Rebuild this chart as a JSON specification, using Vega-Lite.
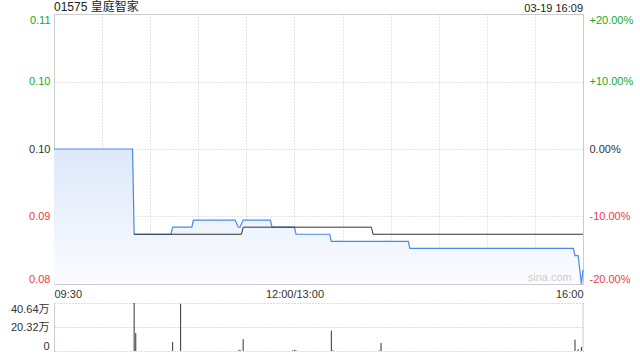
{
  "$schema": "https://vega.github.io/schema/vega-lite/v6.json",
  "padding": {"left": 10, "top": 0, "right": 5, "bottom": 2},
  "background": "white",
  "spacing": 2,
  "config": {
    "font": "Liberation Sans, Noto Sans CJK SC, sans-serif",
    "view": {"stroke": "#cccccc"},
    "axis": {"labelFontSize": 11, "labelColor": "#333333", "ticks": false, "domain": false, "gridColor": "#cccccc", "gridDash": [1, 2], "title": null, "labelFont": "Liberation Sans, Noto Sans CJK SC, sans-serif"}
  },
  "datasets": {
    "price": [
      {"m": 0, "price": 0.095}, {"m": 49, "price": 0.095}, {"m": 50, "price": 0.083},
      {"m": 73, "price": 0.083}, {"m": 74, "price": 0.084}, {"m": 86, "price": 0.084},
      {"m": 87, "price": 0.085}, {"m": 113, "price": 0.085}, {"m": 115, "price": 0.084},
      {"m": 116, "price": 0.084}, {"m": 118, "price": 0.085}, {"m": 135, "price": 0.085},
      {"m": 136, "price": 0.084}, {"m": 150, "price": 0.084}, {"m": 151, "price": 0.083},
      {"m": 172, "price": 0.083}, {"m": 173, "price": 0.082}, {"m": 221, "price": 0.082},
      {"m": 222, "price": 0.081}, {"m": 324, "price": 0.081}, {"m": 325, "price": 0.080},
      {"m": 327, "price": 0.080}, {"m": 329, "price": 0.076}, {"m": 330, "price": 0.078}
    ],
    "avg": [
      {"m": 50, "price": 0.083},
      {"m": 117, "price": 0.083}, {"m": 118, "price": 0.084}, {"m": 198, "price": 0.084},
      {"m": 199, "price": 0.083}, {"m": 330, "price": 0.083}
    ],
    "vol": [
      {"m": 50, "vol": 406400}, {"m": 51, "vol": 152000}, {"m": 74, "vol": 76000},
      {"m": 79, "vol": 400000}, {"m": 115, "vol": 5000}, {"m": 116, "vol": 11000},
      {"m": 118, "vol": 101000}, {"m": 149, "vol": 6000}, {"m": 150, "vol": 10000},
      {"m": 151, "vol": 5000}, {"m": 173, "vol": 172000}, {"m": 174, "vol": 6000},
      {"m": 203, "vol": 4000}, {"m": 204, "vol": 68000}, {"m": 325, "vol": 96000},
      {"m": 327, "vol": 15000}, {"m": 329, "vol": 34000}
    ]
  },
  "vconcat": [
    {
      "width": 529,
      "height": 270,
      "layer": [
        {
          "data": {"name": "price"},
          "mark": {"type": "area", "color": {"gradient": "linear", "x1": 0, "y1": 0, "x2": 0, "y2": 1, "stops": [{"offset": 0, "color": "#dde8fa"}, {"offset": 1, "color": "#fbfcff"}]}},
          "encoding": {
            "x": {"field": "m", "type": "quantitative", "scale": {"domain": [0, 330], "nice": false},
              "axis": {"values": [0, 30, 60, 90, 120, 150, 180, 210, 240, 270, 300, 330], "grid": true, "labelFlush": true, "labelOverlap": false, "labelPadding": 4,
                "labelExpr": "datum.value == 0 ? '09:30' : datum.value == 150 ? '12:00/13:00' : datum.value == 330 ? '16:00' : ''"}},
            "y": {"field": "price", "type": "quantitative", "scale": {"domain": [0.076, 0.114], "nice": false, "zero": false},
              "axis": {"orient": "left", "values": [0.076, 0.0855, 0.095, 0.1045, 0.114], "grid": true, "labelFlush": true, "labelOverlap": false, "labelPadding": 4,
                "labelExpr": "datum.value > 0.11 ? '0.11' : datum.value > 0.09 ? '0.10' : datum.value > 0.08 ? '0.09' : '0.08'",
                "labelColor": {"condition": [{"test": "datum.value > 0.1", "value": "#1aa91a"}, {"test": "datum.value < 0.09", "value": "#f03c3c"}], "value": "#333333"}}},
            "y2": {"datum": 0.076}
          }
        },
        {
          "data": {"name": "price"},
          "mark": {"type": "line", "color": "#4a89e8", "strokeWidth": 1.2},
          "encoding": {
            "x": {"field": "m", "type": "quantitative"},
            "y": {"field": "price", "type": "quantitative", "axis": null}
          }
        },
        {
          "data": {"name": "avg"},
          "mark": {"type": "line", "color": "#333333", "strokeWidth": 1},
          "encoding": {
            "x": {"field": "m", "type": "quantitative"},
            "y": {"field": "price", "type": "quantitative",
              "axis": {"orient": "right", "values": [0.076, 0.0855, 0.095, 0.1045, 0.114], "grid": false, "labelFlush": true, "labelOverlap": false, "labelPadding": 6,
                "labelExpr": "datum.value > 0.11 ? '+20.00%' : datum.value > 0.1 ? '+10.00%' : datum.value > 0.09 ? '0.00%' : datum.value > 0.08 ? '-10.00%' : '-20.00%'",
                "labelColor": {"condition": [{"test": "datum.value > 0.1", "value": "#1aa91a"}, {"test": "datum.value < 0.09", "value": "#f03c3c"}], "value": "#333333"}}}
          }
        },
        {
          "data": {"values": [{"label": "03-19 16:09", "pos": 330}]},
          "mark": {"type": "text", "align": "right", "baseline": "bottom", "dy": 0, "fontSize": 11, "color": "#222222"},
          "encoding": {
            "x": {"field": "pos", "type": "quantitative"},
            "y": {"datum": 0.114, "type": "quantitative", "axis": null},
            "text": {"field": "label"}
          }
        },
        {
          "data": {"values": [{"label": "01575 皇庭智家", "pos": 0}]},
          "mark": {"type": "text", "align": "left", "baseline": "bottom", "dy": 0, "fontSize": 12, "color": "#222222"},
          "encoding": {
            "x": {"field": "pos", "type": "quantitative"},
            "y": {"datum": 0.114, "type": "quantitative", "axis": null},
            "text": {"field": "label"}
          }
        },
        {
          "data": {"values": [{"label": "sina.com"}]},
          "mark": {"type": "text", "align": "right", "baseline": "bottom", "dy": -1, "fontSize": 11, "color": "#cccccc"},
          "encoding": {
            "x": {"datum": 323, "type": "quantitative"},
            "y": {"datum": 0.076, "type": "quantitative", "axis": null},
            "text": {"field": "label"}
          }
        }
      ],
      "resolve": {"axis": {"y": "independent"}}
    },
    {
      "width": 529,
      "height": 48,
      "view": {"stroke": null},
      "layer": [
        {
          "data": {"name": "vol"},
          "mark": {"type": "rule", "color": "#333333", "strokeWidth": 1},
          "encoding": {
            "x": {"field": "m", "type": "quantitative", "scale": {"domain": [0, 330], "nice": false}, "axis": null},
            "y": {"field": "vol", "type": "quantitative", "scale": {"domain": [0, 406400], "nice": false},
              "axis": {"orient": "left", "values": [0, 203200, 406400], "grid": true, "gridDash": [1, 2], "gridColor": "#bbbbbb", "labelFlush": true, "labelOverlap": false, "labelPadding": 5, "domain": true, "domainColor": "#cccccc",
                "labelExpr": "datum.value == 0 ? '0' : datum.value > 300000 ? '40.64万' : '20.32万'"}},
            "y2": {"datum": 0}
          }
        },
        {
          "data": {"values": [{"edge": "right"}]},
          "mark": {"type": "rule", "color": "#cccccc", "strokeWidth": 1},
          "encoding": {
            "x": {"datum": 330, "type": "quantitative"},
            "y": {"datum": 0, "type": "quantitative", "axis": {"orient": "right", "labels": false, "grid": false, "domain": false, "values": [0]}},
            "y2": {"datum": 406400}
          }
        }
      ],
      "resolve": {"axis": {"y": "independent"}}
    }
  ]
}
